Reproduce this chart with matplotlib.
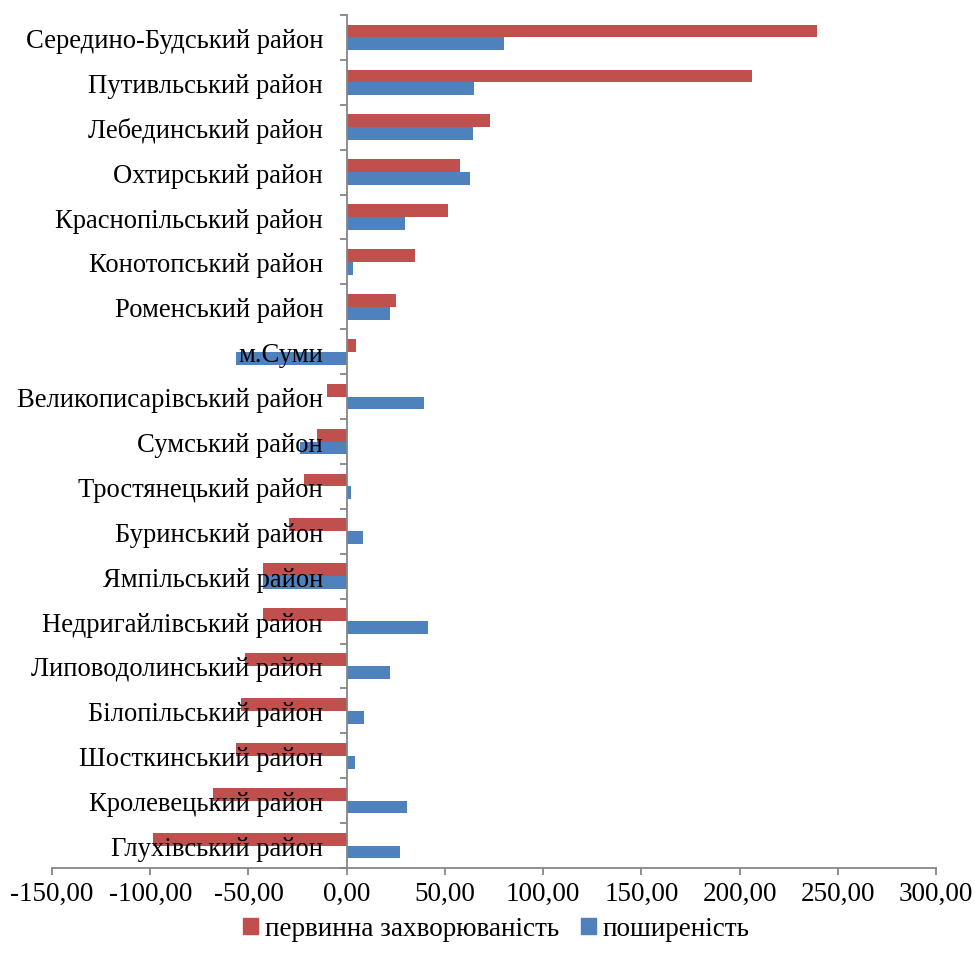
import numpy as np
import matplotlib.pyplot as plt
from matplotlib.patches import Patch

plt.rcParams['font.family'] = ['Liberation Serif', 'DejaVu Serif']

# categories from bottom to top (Excel order)
districts = [
    "Глухівський район",
    "Кролевецький район",
    "Шосткинський район",
    "Білопільський район",
    "Липоводолинський район",
    "Недригайлівський район",
    "Ямпільський район",
    "Буринський район",
    "Тростянецький район",
    "Сумський район",
    "Великописарівський район",
    "м.Суми",
    "Роменський район",
    "Конотопський район",
    "Краснопільський район",
    "Охтирський район",
    "Лебединський район",
    "Путивльський район",
    "Середино-Будський район",
]

incidence = [-98.5, -68.0, -56.3, -53.6, -51.7, -42.5, -42.5, -29.5, -21.8, -15.0,
             -10.2, 4.6, 25.0, 35.0, 51.5, 57.5, 73.0, 206.5, 239.6]
prevalence = [26.9, 30.6, 4.1, 8.7, 22.0, 41.2, -42.8, 8.3, 2.0, -23.6,
              39.3, -56.3, 21.9, 3.4, 29.6, 63.0, 64.1, 64.8, 80.3]

series_names = ["первинна захворюваність", "поширеність"]
red = "#C0504D"
blue = "#4F81BD"
axis_grey = "#868686"

fig = plt.figure(figsize=(9.75, 9.7), dpi=100)
ax = fig.add_axes([52 / 975, 1 - 869 / 970, 884 / 975, 853 / 970])

y = np.arange(len(districts))
h = 0.286
ax.barh(y + h / 2, incidence, height=h, color=red, zorder=2)
ax.barh(y - h / 2, prevalence, height=h, color=blue, zorder=2)
ax.set_axisbelow(False)  # category labels sit over the bars, as in Excel

ax.set_xlim(-150, 300)
ax.set_ylim(-0.5, len(districts) - 0.5)

# axes crossing at zero
for s in ["top", "right"]:
    ax.spines[s].set_visible(False)
ax.spines["left"].set_position(("data", 0))
ax.spines["left"].set_color(axis_grey)
ax.spines["bottom"].set_color(axis_grey)
ax.spines["left"].set_linewidth(1.3)
ax.spines["bottom"].set_linewidth(1.3)

xt = np.arange(-150, 301, 50)
ax.set_xticks(xt)
ax.set_xticklabels([f"{v:.2f}".replace(".", ",") for v in xt], fontsize=19.5)
ax.tick_params(axis="x", direction="out", length=5, width=1.3, color=axis_grey, pad=4)

# category boundary ticks and centred labels
ax.set_yticks(np.arange(-0.5, len(districts), 1.0))
ax.set_yticklabels([])
ax.tick_params(axis="y", which="major", direction="out", length=5, width=1.3, color=axis_grey)
ax.set_yticks(y, minor=True)
ax.set_yticklabels(districts, minor=True, fontsize=19.2)
ax.tick_params(axis="y", which="minor", length=0, pad=17)

handles = [Patch(color=red), Patch(color=blue)]
fig.legend(handles, series_names, loc="center", bbox_to_anchor=(0.509, 1 - 930 / 970),
           ncol=2, frameon=False, fontsize=19.5, handlelength=0.55, handleheight=0.55,
           handletextpad=0.25, columnspacing=0.8)

fig.savefig("out.png", dpi=100)
